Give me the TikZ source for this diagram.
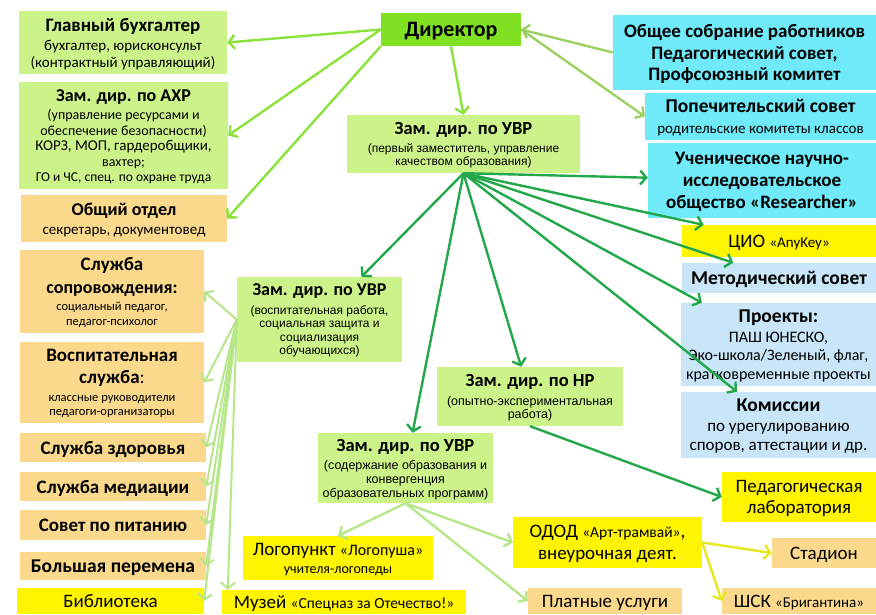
\documentclass[tikz,border=0pt]{standalone}
\usepackage{fontspec}
\setmainfont{Carlito}
\newfontfamily\arialfont{Liberation Sans}
\usetikzlibrary{arrows.meta}
\definecolor{dirgreen}{HTML}{80E022}
\definecolor{lgreen}{HTML}{CCF38A}
\definecolor{lorange}{HTML}{FBD98C}
\definecolor{lcyan}{HTML}{70EAF8}
\definecolor{lblue}{HTML}{C8E6F8}
\definecolor{lyellow}{HTML}{FFF500}
\definecolor{dirline}{HTML}{8CE23C}
\definecolor{oliveline}{HTML}{9DD062}
\definecolor{darkline}{HTML}{22A84A}
\definecolor{paleline}{HTML}{B6E68A}
\definecolor{yelline}{HTML}{E6E620}
\newcommand{\fs}[2]{\fontsize{#1}{#2}\selectfont}

\begin{document}
\begin{tikzpicture}[x=1pt,y=-1pt,
	box/.style={inner sep=0pt,align=center,text depth=0pt},
	arr/.style={line width=2.4pt,-{Straight Barb[length=6pt,width=14pt]}}]
\useasboundingbox (0,0) rectangle (876,614);
% top
\node[box,fill=dirgreen,minimum width=140,minimum height=33,font=\fs{22}{24}] (dir) at (451,29.5)
	{\bfseries Директор};
\node[box,fill=lgreen,minimum width=208,minimum height=63,font=\fs{15}{16.5}] (gb) at (123,42.5)
	{{\fs{19}{21}\bfseries Главный бухгалтер}\\[3pt] бухгалтер, юрисконсульт\\ (контрактный управляющий)};
\node[box,fill=lgreen,minimum width=209,minimum height=107,font=\fs{14}{15.5}] (axr) at (123.5,135.5)
	{{\fs{18}{21}\bfseries Зам. дир. по АХР}\\[3pt] (управление ресурсами и\\ обеспечение безопасности)\\ {\fs{15}{17}КОРЗ, МОП, гардеробщики,}\\ вахтер;\\ {\fs{13.5}{17}ГО и ЧС, спец. по охране труда}};
\node[box,fill=lorange,minimum width=206,minimum height=47,font=\fs{15}{19}] (oo) at (124,218.5)
	{{\fs{18}{21}\bfseries Общий отдел}\\ секретарь, документовед};
\node[box,fill=lcyan,minimum width=263,minimum height=75,font=\fs{19}{21.5}\bfseries] (os) at (744.5,52.5)
	{Общее собрание работников\\ Педагогический совет,\\ Профсоюзный комитет};
\node[box,fill=lcyan,minimum width=231,minimum height=47,font=\fs{15}{21}] (ps) at (760.5,116.5)
	{{\fs{19.5}{22}\bfseries Попечительский совет}\\ родительские комитеты классов};
\node[box,fill=lcyan,minimum width=228,minimum height=75,font=\fs{19}{22}\bfseries] (un) at (762,180.5)
	{Ученическое научно-\\ исследовательское\\ общество «Researcher»};
\node[box,fill=lyellow,minimum width=194,minimum height=32,font=\fs{19}{22}] (cio) at (779,241)
	{ЦИО {\fs{15}{18}«AnyKey»}};
\node[box,fill=lblue,minimum width=194,minimum height=30,font=\fs{19.5}{21}\bfseries] (ms) at (779,278)
	{Методический совет};
\node[box,fill=lblue,minimum width=195,minimum height=83,font=\fs{16}{18.5}] (pr) at (778.5,344.5)
	{{\fs{19.5}{22}\bfseries Проекты:}\\[1pt] ПАШ ЮНЕСКО,\\ Эко-школа/Зеленый, флаг,\\ кратковременные проекты};
\node[box,fill=lblue,minimum width=195,minimum height=66,font=\fs{17}{19}] (km) at (778.5,425)
	{{\fs{19.5}{22}\bfseries Комиссии}\\[1pt] по урегулированию\\ споров, аттестации и др.};
% deputies
\node[box,fill=lgreen,minimum width=233,minimum height=58,font=\arialfont\fs{12}{13}] (uvr) at (463.5,144)
	{{\fs{18.5}{21}\normalfont\bfseries Зам. дир. по УВР}\\[5pt] (первый заместитель, управление\\ качеством образования)};
\node[box,fill=lgreen,minimum width=165,minimum height=85,font=\arialfont\fs{12}{13.5}] (uvrv) at (319.5,319.5)
	{{\fs{18}{21}\normalfont\bfseries Зам. дир. по УВР}\\[5pt] (воспитательная работа,\\ социальная защита и\\ социализация\\ обучающихся)};
\node[box,fill=lgreen,minimum width=186,minimum height=59,font=\arialfont\fs{12.5}{13.5}] (nr) at (530,396.5)
	{{\fs{18.5}{21}\normalfont\bfseries Зам. дир. по НР}\\[5pt] (опытно-экспериментальная\\ работа)};
\node[box,fill=lgreen,minimum width=175,minimum height=70,font=\arialfont\fs{12.5}{14}] (uvrs) at (405.5,468)
	{{\fs{18.5}{21}\normalfont\bfseries Зам. дир. по УВР}\\[4pt] (содержание образования и\\ конвергенция\\ образовательных программ)};
% bottom right
\node[box,fill=lyellow,minimum width=154,minimum height=50,font=\fs{19}{21}] (pl) at (799,497)
	{Педагогическая\\ лаборатория};
\node[box,fill=lyellow,minimum width=189,minimum height=51,font=\fs{19}{22}] (odod) at (607.5,542.5)
	{ОДОД {\fs{15.5}{18}«Арт-трамвай»},\\ внеурочная деят.};
\node[box,fill=lorange,minimum width=104,minimum height=30,font=\fs{19}{22}] (st) at (824,553)
	{Стадион};
\node[box,fill=lorange,minimum width=154,minimum height=26,font=\fs{19}{22}] (shsk) at (799,601)
	{ШСК {\fs{15}{18}«Бригантина»}};
\node[box,fill=lorange,minimum width=154,minimum height=26,font=\fs{19}{22}] (pu) at (605,601)
	{Платные услуги};
\node[box,fill=lyellow,minimum width=190,minimum height=44,font=\fs{14}{18}] (log) at (338,558)
	{{\fs{19}{22}Логопункт {\fs{16}{18}«Логопуша»}}\\ учителя-логопеды};
\node[box,fill=lyellow,minimum width=244,minimum height=24,font=\fs{19}{22}] (muz) at (344,602)
	{Музей {\fs{15.5}{18}«Спецназ за Отечество!»}};
% left column
\node[box,fill=lyellow,minimum width=187,minimum height=26,font=\fs{19}{22}] (bib) at (110.5,601)
	{Библиотека};
\node[box,fill=lorange,minimum width=184,minimum height=83,font=\fs{12.5}{14.5}] (ss) at (112,291.5)
	{{\fs{19}{22}\bfseries Служба}\\[8pt] {\fs{18}{22}\bfseries сопровождения:}\\[3pt] социальный педагог,\\ педагог-психолог};
\node[box,fill=lorange,minimum width=184,minimum height=81,font=\fs{12.5}{14.5}] (vs) at (112,382.5)
	{{\fs{19}{22}\bfseries Воспитательная}\\[8pt] {\fs{19}{22}{\bfseries служба}:}\\[3pt] классные руководители\\ педагоги-организаторы};
\node[box,fill=lorange,minimum width=186,minimum height=29,font=\fs{19}{21}\bfseries] (sz) at (113,447.5)
	{Служба здоровья};
\node[box,fill=lorange,minimum width=186,minimum height=29,font=\fs{19}{21}\bfseries] (sm) at (113,486.5)
	{Служба медиации};
\node[box,fill=lorange,minimum width=186,minimum height=30,font=\fs{19}{21}\bfseries] (sp) at (113,525)
	{Совет по питанию};
\node[box,fill=lorange,minimum width=186,minimum height=28,font=\fs{19.5}{21}\bfseries] (bp) at (113,566)
	{Большая перемена};
% connectors
\draw[arr,dirline] (dir.west) -- (gb.east);
\draw[arr,dirline] (dir.west) -- (axr.east);
\draw[arr,dirline] (dir.south west) -- (oo.east);
\draw[arr,dirline] (dir.south) -- (uvr.north);
\draw[arr,oliveline,{Straight Barb[length=6pt,width=14pt]}-] (dir.east) -- (os.west);
\draw[arr,oliveline] (dir.east) -- (ps.west);
\foreach \t in {uvrv,nr,un,cio,ms,pr,km}
	\draw[arr,darkline] (uvr.south) -- (\t);
\draw[arr,darkline] (uvr.south) -- ([xshift=7pt]uvrs.north);
\draw[arr,darkline] (nr.south) -- (pl.west);
\foreach \t in {ss,vs,sz,sm,sp,bp,bib}
	\draw[arr,paleline,line width=2pt] (uvrv.west) -- (\t.east);
\draw[arr,paleline,line width=2pt] (uvrv.west) -- ([xshift=6pt]muz.north west);
\foreach \t in {log.north,odod.west,pu.west}
	\draw[arr,paleline] (uvrs.south) -- (\t);
\draw[arr,yelline] (odod.east) -- (st.west);
\draw[arr,yelline] (odod.east) -- (shsk.west);
\end{tikzpicture}
\end{document}
